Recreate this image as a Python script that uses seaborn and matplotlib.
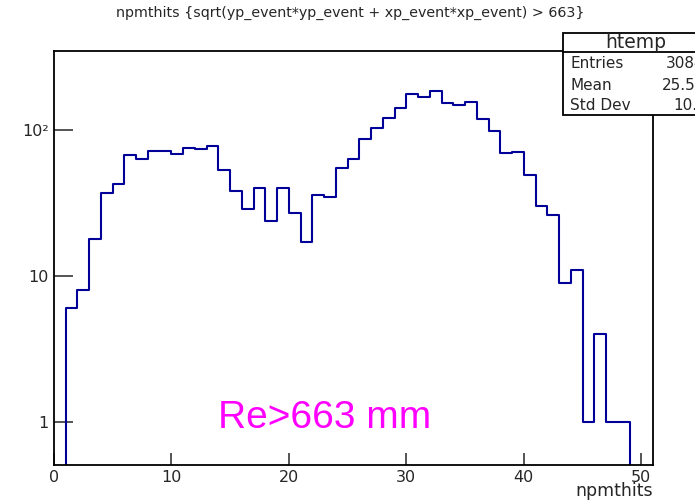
import numpy as np
import pandas as pd
import matplotlib
matplotlib.use("Agg")
import matplotlib.pyplot as plt
from matplotlib.patches import Rectangle
from matplotlib.lines import Line2D
from matplotlib.ticker import MultipleLocator, LogLocator, FixedLocator, FixedFormatter, NullFormatter
import seaborn as sns

# ---- data ----
bin_low = list(range(0, 51))          # bins of width 1 from 0 to 51
counts = [0,
          6, 8, 18, 37, 43, 68, 64, 72, 72, 69,
          76, 74, 78, 53, 38, 29, 40, 24, 40, 27,
          17, 36, 35, 55, 64, 87, 104, 122, 143, 176,
          170, 186, 155, 149, 157, 120, 99, 70, 71, 49,
          30, 26, 9, 11, 1, 4, 1, 1,
          0, 0]
x_ticks = [0, 10, 20, 30, 40, 50]
y_ticks = [1, 10, 100]
y_ticklabels = ["1", "10", "10²"]
title = "npmthits {sqrt(yp_event*yp_event + xp_event*xp_event) > 663}"
xlabel = "npmthits"
note = "Re>663 mm"
stats_name = "htemp"

sns.set_style("white")
plt.rcParams["font.family"] = ["DejaVu Sans"]

W, H = 695, 500
fig = plt.figure(figsize=(W / 100, H / 100), dpi=100)

def fx(px):
    return px / W

def fy(py):
    return 1 - py / H

ax_l, ax_r, ax_t, ax_b = 54, 653, 51, 465
ax = fig.add_axes([fx(ax_l), fy(ax_b), fx(ax_r - ax_l), (ax_b - ax_t) / H])

df = pd.DataFrame({"x": np.array(bin_low) + 0.5, "w": counts})
sns.histplot(data=df, x="x", weights="w", binwidth=1, binrange=(0, 51), element="step",
             fill=False, color="#000099", linewidth=1.5, ax=ax)
ax.set_yscale("log")
ax.set_xlim(0, 51)
ax.set_ylim(0.504, 350)
ax.set_ylabel("")

# ticks
ax.xaxis.set_major_locator(FixedLocator(x_ticks))
ax.xaxis.set_minor_locator(MultipleLocator(2))
ax.yaxis.set_major_locator(FixedLocator(y_ticks))
ax.yaxis.set_major_formatter(FixedFormatter(y_ticklabels))
ax.yaxis.set_minor_locator(LogLocator(base=10, subs=np.arange(2, 10)))
ax.yaxis.set_minor_formatter(NullFormatter())
ax.tick_params(axis="x", which="major", direction="in", length=8.6, width=1.1,
               labelsize=11.5, pad=3.5, top=False, bottom=True)
ax.tick_params(axis="x", which="minor", direction="in", length=4.3, width=1.1, top=False)
ax.tick_params(axis="y", which="major", direction="in", length=13.7, width=1.1,
               labelsize=11.5, pad=4.0, right=False, left=True)
ax.tick_params(axis="y", which="minor", direction="in", length=7.2, width=1.1, right=False)
for s in ax.spines.values():
    s.set_color("black")
    s.set_linewidth(1.3)

ax.set_xlabel(xlabel, loc="right", fontsize=12.5)
ax.xaxis.set_label_coords(1.0, -(496 - ax_b) / (ax_b - ax_t))
ax.xaxis.label.set_verticalalignment("baseline")

# title
fig.text(fx(350), fy(13), title, ha="center", va="center", fontsize=10.3)

# annotation
ax.text(14, 0.9, note, color="#ff00ff", fontsize=28, family="Liberation Sans",
        ha="left", va="baseline")

# stats box (values computed from the histogram; npmthits are integers)
c = np.array(counts, dtype=float)
vals = np.array(bin_low, dtype=float)
n_entries = int(c.sum())
mean = (c * vals).sum() / c.sum()
std = np.sqrt((c * (vals - mean) ** 2).sum() / c.sum())

box_l, box_t, box_b, sep = 563, 33, 115, 52
fig.add_artist(Rectangle((fx(box_l), fy(box_b)), fx(720 - box_l), (box_b - box_t) / H,
                         transform=fig.transFigure, facecolor="white",
                         edgecolor="black", linewidth=1.3, zorder=5))
fig.add_artist(Line2D([fx(box_l), fx(720)], [fy(sep), fy(sep)], transform=fig.transFigure,
                      color="black", linewidth=1.3, zorder=6))
fig.text(fx(636), fy(42.5), stats_name, ha="center", va="center", fontsize=13.5, zorder=7)
rows = [("Entries", f"{n_entries}", 64, 666),
        ("Mean", f"{mean:.4g}", 85, 662),
        ("Std Dev", f"{std:.4g}", 106, 673)]
for lab, val, y, vx in rows:
    fig.text(fx(570), fy(y), lab, ha="left", va="center", fontsize=11, zorder=7)
    fig.text(fx(vx), fy(y), val, ha="left", va="center", fontsize=11, zorder=7)

fig.savefig("out.png", dpi=100)
